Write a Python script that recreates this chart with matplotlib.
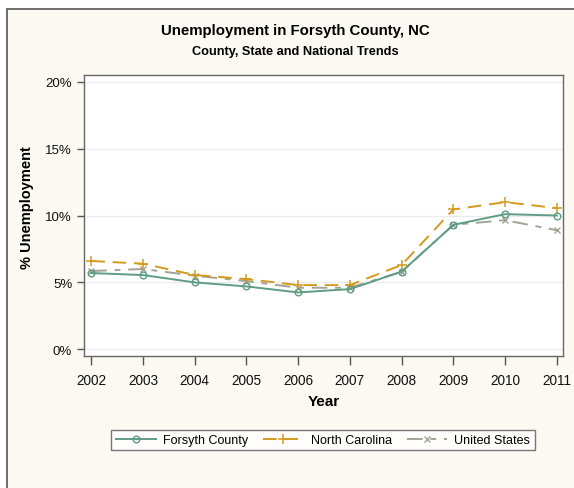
import matplotlib
matplotlib.use("Agg")
import matplotlib.pyplot as plt
from matplotlib.patches import Rectangle
from matplotlib.ticker import FuncFormatter
from matplotlib import font_manager

years = [2002, 2003, 2004, 2005, 2006, 2007, 2008, 2009, 2010, 2011]
forsyth = [5.7, 5.55, 5.0, 4.7, 4.25, 4.5, 5.8, 9.3, 10.1, 10.0]
north_carolina = [6.6, 6.4, 5.55, 5.25, 4.8, 4.8, 6.3, 10.45, 11.0, 10.55]
united_states = [5.85, 6.0, 5.5, 5.1, 4.6, 4.6, 5.8, 9.3, 9.65, 8.9]
y_ticks = [0, 5, 10, 15, 20]

plt.rcParams['font.family'] = ['Liberation Sans', 'DejaVu Sans']

names = {f.name for f in font_manager.fontManager.ttflist}
if 'Liberation Sans Narrow' in names:
    title_family = ['Liberation Sans Narrow', 'Liberation Sans']
    t1, t2 = 12.5, 10.5
else:
    title_family = ['Liberation Sans', 'DejaVu Sans']
    t1, t2 = 10.8, 9.2

W, H = 574, 489
fig = plt.figure(figsize=(W / 100, H / 100), dpi=100)
fig.patch.set_facecolor('white')

# outer frame
fig.patches.append(Rectangle((7 / W, -0.05), 1.1, 1 - 10 / H + 0.05,
                             transform=fig.transFigure, facecolor='#fcf9f2',
                             edgecolor='#555555', linewidth=1.2, zorder=-10))

ax = fig.add_axes([84 / W, 1 - 357 / H, (563 - 84) / W, (357 - 76) / H])
ax.set_zorder(2)
ax.set_facecolor('white')

c_f = '#5f9c84'
c_nc = '#d49a1e'
c_us = '#a3a395'

ax.plot(years, forsyth, color=c_f, lw=1.4, marker='o', ms=4.8, mfc='none',
        mec=c_f, mew=1.0, label='Forsyth County', zorder=4)
ax.plot(years, north_carolina, color=c_nc, lw=1.4, dashes=(7, 4), marker='+',
        ms=7.5, mew=1.1, label='North Carolina', zorder=3)
ax.plot(years, united_states, color=c_us, lw=1.4, dashes=(8, 4, 3, 4),
        marker='x', ms=5, mew=1.0, label='United States', zorder=2)

ax.set_xlim(2001.86, 2011.12)
ax.set_ylim(-0.5, 20.5)
ax.set_xticks(years)
ax.set_yticks(y_ticks)
ax.yaxis.set_major_formatter(FuncFormatter(lambda v, p: f"{int(v)}%"))
ax.grid(axis='y', color='#ebebeb', lw=1.0)
ax.set_axisbelow(True)
for s in ax.spines.values():
    s.set_color('#666666')
    s.set_linewidth(1.0)
ax.tick_params(axis='x', direction='out', length=6.5, width=1, color='#555555',
               labelsize=9.8, labelcolor='#111111', pad=6)
ax.tick_params(axis='y', direction='out', length=5, width=1, color='#555555',
               labelsize=9.5, labelcolor='#111111', pad=3.5)

ax.set_xlabel('Year', fontsize=11, fontweight='bold')
ax.xaxis.set_label_coords(0.5, (357 - 402) / 281, transform=ax.transAxes)
ax.xaxis.label.set_va('center')
ax.set_ylabel('% Unemployment', fontsize=10.5, fontweight='bold')
ax.yaxis.set_label_coords((27 - 84) / 479, (357 - 208) / 281)
ax.yaxis.label.set_va('center')

fig.text(295 / W, 1 - 31 / H, 'Unemployment in Forsyth County, NC',
         ha='center', va='center', fontsize=t1, fontweight='bold',
         family=title_family)
fig.text(295 / W, 1 - 52 / H, 'County, State and National Trends',
         ha='center', va='center', fontsize=t2, fontweight='bold',
         family=title_family)

leg = fig.legend(loc='center', bbox_to_anchor=(323 / W, 1 - 441 / H), ncol=3,
                 frameon=True, fancybox=False, fontsize=9, handlelength=3.2,
                 columnspacing=1.2, handletextpad=0.6, borderpad=0.35)
leg.set_zorder(3)
leg.get_frame().set_edgecolor('#555555')
leg.get_frame().set_linewidth(1.0)
leg.get_frame().set_facecolor('white')

fig.savefig('out.png', dpi=100, facecolor=fig.get_facecolor())
